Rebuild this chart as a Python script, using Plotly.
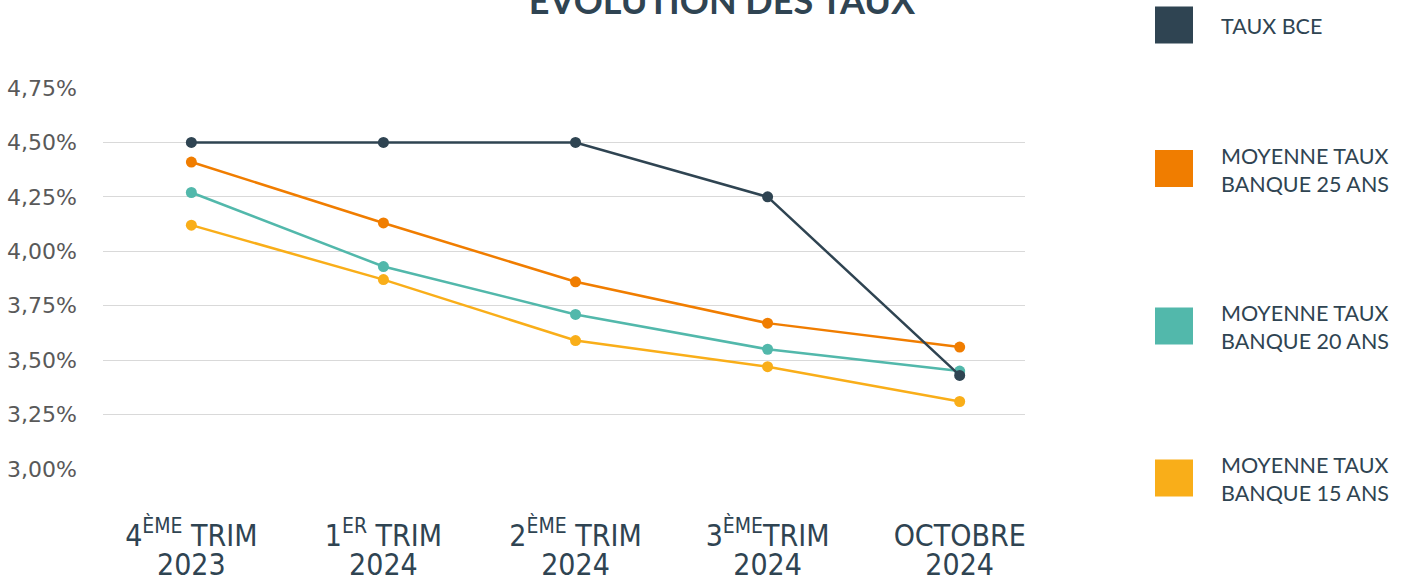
import plotly.graph_objects as go

categories = ["4<sup>ÈME</sup> TRIM", "1<sup>ER</sup> TRIM", "2<sup>ÈME</sup> TRIM", "3<sup>ÈME</sup>TRIM", "OCTOBRE"]
category_years = ["2023", "2024", "2024", "2024", "2024"]
series_names = ["TAUX BCE", "MOYENNE TAUX<br>BANQUE 25 ANS", "MOYENNE TAUX<br>BANQUE 20 ANS", "MOYENNE TAUX<br>BANQUE 15 ANS"]
taux_bce = [4.50, 4.50, 4.50, 4.25, 3.43]
banque_25 = [4.41, 4.13, 3.86, 3.67, 3.56]
banque_20 = [4.27, 3.93, 3.71, 3.55, 3.45]
banque_15 = [4.12, 3.87, 3.59, 3.47, 3.31]
y_ticks = [3.00, 3.25, 3.50, 3.75, 4.00, 4.25, 4.50, 4.75]
y_ticktext = [f"{v:.2f}".replace(".", ",") + "%" for v in y_ticks]

colors = ["#2f4452", "#f07d00", "#52b8ab", "#f9ae19"]
all_series = [taux_bce, banque_25, banque_20, banque_15]

W, H = 1403, 582
L, R, T, B = 103, 1025, 88, 469

fig = go.Figure()
x_idx = list(range(len(categories)))
# draw from back to front: 15, 20, 25, BCE
for i in [3, 2, 1, 0]:
    fig.add_trace(go.Scatter(
        x=x_idx, y=all_series[i], mode="lines+markers", name=series_names[i],
        line=dict(color=colors[i], width=2.5),
        marker=dict(color=colors[i], size=11),
        showlegend=False, hoverinfo="skip",
    ))

def px_x(p):
    return (p - L) / (R - L)

def px_y(p):
    return (B - p) / (B - T)

# manual legend
leg_centers = [25, 168.5, 326, 478]
for name, col, cy in zip(series_names, colors, leg_centers):
    fig.add_shape(type="rect", xref="paper", yref="paper",
                  x0=px_x(1155), x1=px_x(1193), y0=px_y(cy + 18.5), y1=px_y(cy - 18.5),
                  fillcolor=col, line=dict(width=0))
    fig.add_annotation(xref="paper", yref="paper", x=px_x(1219), y=px_y(cy + 1),
                       xanchor="left", yanchor="middle", align="left", text=name,
                       showarrow=False, font=dict(family="Lato, Noto Sans, sans-serif", size=21.5, color="#2f4452"))

xfont = dict(family="Liberation Sans Narrow, DejaVu Sans Condensed, sans-serif", size=30, color="#2f4452")
fig.update_layout(
    width=W, height=H,
    margin=dict(l=L, r=W - R, t=T, b=H - B, pad=0, autoexpand=False),
    paper_bgcolor="white", plot_bgcolor="white",
    title=dict(text="<b>ÉVOLUTION DES TAUX</b>", x=722 / W, xanchor="center", xref="container",
               y=1 - 1 / H, yanchor="middle", yref="container",
               font=dict(family="Lato, Noto Sans, sans-serif", size=36, color="#2f4452")),
    xaxis=dict(range=[-0.46, 4.34], tickvals=x_idx, ticktext=categories, showgrid=False,
               zeroline=False, showline=False, ticks="", ticklabelstandoff=46, automargin=False,
               tickfont=xfont),
    xaxis2=dict(range=[-0.46, 4.34], tickvals=x_idx, ticktext=category_years, showgrid=False,
                zeroline=False, showline=False, ticks="", ticklabelstandoff=75, automargin=False,
                overlaying="x", side="bottom", anchor="y", tickfont=xfont),
    yaxis=dict(range=[3.0, 4.75], tickvals=y_ticks, ticktext=y_ticktext,
               showgrid=True, gridcolor="#d9d9d9", gridwidth=1, zeroline=False, showline=False,
               ticks="", ticklabelstandoff=25, automargin=False,
               tickfont=dict(family="DejaVu Sans, sans-serif", size=22, color="#595959")),
)
# invisible helper trace so the second category axis (years) is drawn
fig.add_trace(go.Scatter(x=x_idx, y=taux_bce, xaxis="x2", mode="none", showlegend=False, hoverinfo="skip"))

fig.write_html("out.html", config={"displayModeBar": False},
               post_script="document.body.style.margin='0';")
